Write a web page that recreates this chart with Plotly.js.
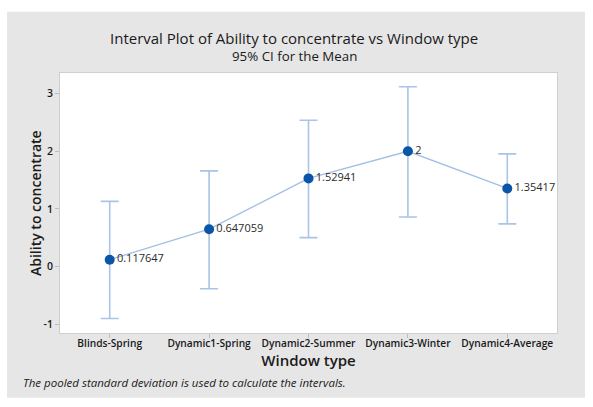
<!DOCTYPE html>
<html>
<head>
<meta charset="utf-8">
<script src="https://cdn.plot.ly/plotly-3.0.1.min.js"></script>
<style>
  html, body { margin: 0; padding: 0; background: #ffffff; }
  #plot { width: 593px; height: 407px; }
</style>
</head>
<body>
<div id="plot"></div>
<script>
// values
var windowTypes = ["Blinds-Spring", "Dynamic1-Spring", "Dynamic2-Summer", "Dynamic3-Winter", "Dynamic4-Average"];
var means = [0.117647, 0.647059, 1.52941, 2, 1.35417];
var upperCI = [1.13, 1.66, 2.54, 3.12, 1.955];
var lowerCI = [-0.905, -0.387, 0.50, 0.86, 0.74];
var meanLabels = ["0.117647", "0.647059", "1.52941", "2", "1.35417"];
var yTicks = [-1, 0, 1, 2, 3];
var yTickText = ["-1", "0", "1", "2", "3"];

var xs = [0, 1, 2, 3, 4];
var plusErr = [], minusErr = [];
for (var i = 0; i < means.length; i += 1) {
  plusErr.push(upperCI[i] - means[i]);
  minusErr.push(means[i] - lowerCI[i]);
}

var FONT = "Open Sans, Noto Sans, sans-serif";

var ci = {
  x: xs,
  y: means,
  mode: 'markers',
  marker: {color: 'rgba(0,0,0,0)', size: 1},
  error_y: {
    type: 'data', symmetric: false,
    array: plusErr, arrayminus: minusErr,
    color: '#a9c4e6', thickness: 1.6, width: 9
  },
  hoverinfo: 'skip',
  showlegend: false
};

var connect = {
  x: xs,
  y: means,
  mode: 'lines',
  line: {color: '#a3bfe3', width: 1.3},
  showlegend: false
};

var pts = {
  x: xs,
  y: means,
  mode: 'markers+text',
  text: meanLabels,
  textposition: 'middle right',
  textfont: {family: FONT, size: 11, color: '#2b2b2b'},
  marker: {color: '#0a55a8', size: 10},
  showlegend: false
};

var layout = {
  width: 593,
  height: 407,
  margin: {l: 60, r: 36, t: 73, b: 74},
  paper_bgcolor: '#ffffff',
  plot_bgcolor: '#ffffff',
  font: {family: FONT, color: '#1a1a1a'},
  xaxis: {
    range: [-0.5, 4.5],
    tickmode: 'array',
    tickvals: xs,
    ticktext: windowTypes,
    ticks: 'outside', ticklen: 4, tickcolor: '#bdbdbd',
    ticklabelstandoff: -3,
    tickfont: {family: FONT, size: 10.2, color: '#1a1a1a', weight: 600},
    showgrid: false, zeroline: false,
    showline: true, mirror: true, linecolor: '#cfcfcf', linewidth: 1,
    title: {text: 'Window type', font: {family: FONT, size: 15, color: '#1a1a1a', weight: 600}, standoff: 3}
  },
  yaxis: {
    range: [-1.156, 3.36],
    tickmode: 'array',
    tickvals: yTicks,
    ticktext: yTickText,
    ticks: 'outside', ticklen: 4, tickcolor: '#bdbdbd',
    tickfont: {family: FONT, size: 10.5, color: '#1a1a1a', weight: 600},
    showgrid: false, zeroline: false,
    showline: true, mirror: true, linecolor: '#cfcfcf', linewidth: 1
  },
  shapes: [{
    type: 'rect', xref: 'paper', yref: 'paper', layer: 'below',
    x0: -0.1066, x1: 1.0563, y0: -0.2488, y1: 1.2358,
    fillcolor: '#e6e6e6', line: {width: 0}
  }, {
    type: 'rect', xref: 'paper', yref: 'paper', layer: 'below',
    x0: 0, x1: 1, y0: 0, y1: 1,
    fillcolor: '#ffffff', line: {width: 0}
  }],
  annotations: [{
    text: 'Interval Plot of Ability to concentrate vs Window type',
    xref: 'paper', yref: 'paper', x: 0.471, y: 1.136,
    xanchor: 'center', yanchor: 'middle', showarrow: false,
    font: {family: FONT, size: 15, color: '#1a1a1a'}
  }, {
    text: '95% CI for the Mean',
    xref: 'paper', yref: 'paper', x: 0.471, y: 1.066,
    xanchor: 'center', yanchor: 'middle', showarrow: false,
    font: {family: FONT, size: 13.3, color: '#1a1a1a'}
  }, {
    text: 'Ability to concentrate',
    textangle: -90,
    xref: 'paper', yref: 'paper', x: -0.0503, y: 0.5,
    xanchor: 'center', yanchor: 'middle', showarrow: false,
    font: {family: FONT, size: 14, color: '#1a1a1a', weight: 600}
  }, {
    text: '<i>The pooled standard deviation is used to calculate the intervals.</i>',
    xref: 'paper', yref: 'paper', x: -0.0785, y: -0.19,
    xanchor: 'left', yanchor: 'middle', showarrow: false,
    font: {family: FONT, size: 11.5, color: '#1a1a1a'}
  }]
};

Plotly.newPlot('plot', [ci, connect, pts], layout, {displayModeBar: false, staticPlot: true});
</script>
</body>
</html>
